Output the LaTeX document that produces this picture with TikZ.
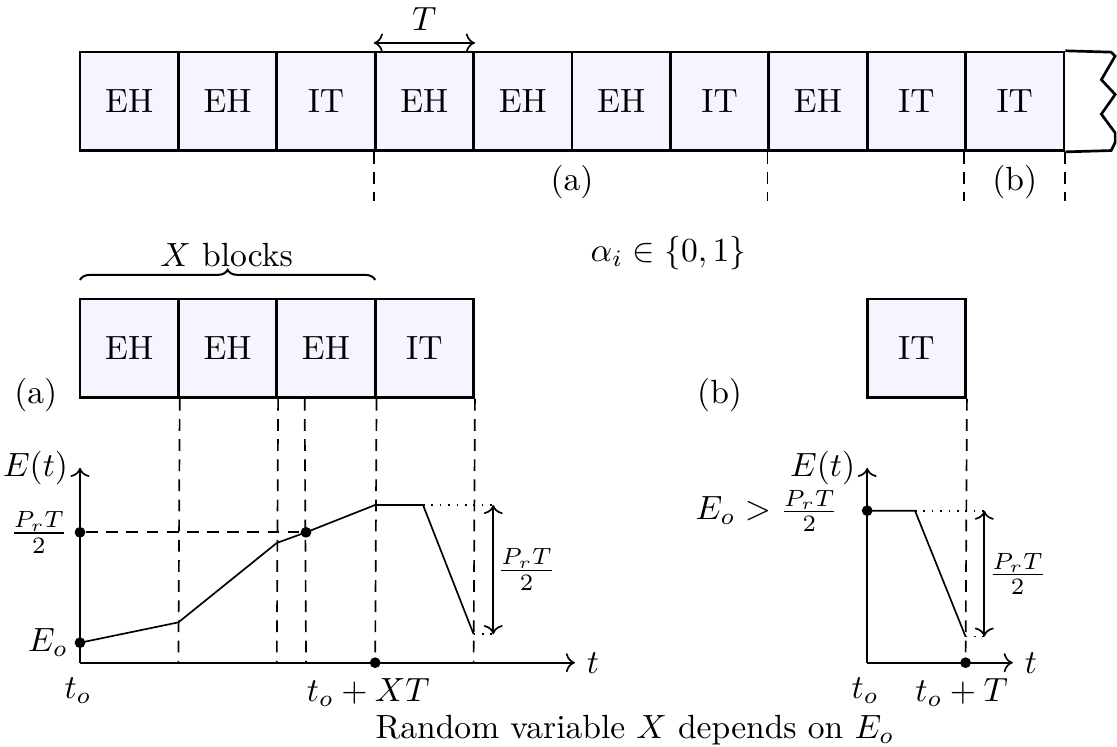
\documentclass[tikz,border=0pt]{standalone}
\usepackage{amsmath}
\usepackage{amssymb}
\usetikzlibrary{arrows.meta, positioning, decorations.pathreplacing, calc}
\definecolor{blockfill}{RGB}{245, 245, 255}

\begin{document}
\begin{tikzpicture}[x=1.03cm, y=1.03cm, line width=0.5pt,
    blk/.style={draw, thick, fill=blockfill, minimum width=1.03cm,
                minimum height=1.03cm, inner sep=0pt},
    guide/.style={dash pattern=on 3.5pt off 2.5pt},
    dot/.style={circle, fill, inner sep=0pt, minimum size=3.2pt}]
    \useasboundingbox (-0.813,0) rectangle (10.539,-7.591);

    % slot sequence
    \node[blk] (t1) at (0.5,-1.03) {EH};
    \node[blk] (t2) at (1.5,-1.03) {EH};
    \node[blk] (t3) at (2.5,-1.03) {IT};
    \node[blk] (t4) at (3.5,-1.03) {EH};
    \node[blk] (t5) at (4.5,-1.03) {EH};
    \node[blk] (t6) at (5.5,-1.03) {EH};
    \node[blk] (t7) at (6.5,-1.03) {IT};
    \node[blk] (t8) at (7.5,-1.03) {EH};
    \node[blk] (t9) at (8.5,-1.03) {IT};
    \node[blk] (t10) at (9.5,-1.03) {IT};
    \draw[thick, fill=white] (t10.north east) -- (10.48,-0.53) -- (10.52,-0.57)
        -- (10.38,-0.81) -- (10.52,-0.96) -- (10.38,-1.16) -- (10.52,-1.35)
        -- (10.52,-1.45) -- (10.48,-1.53) -- (t10.south east);
    \draw[<->] ($(t4.north west)+(0,0.08)$) -- node[above] (tlen) {$T$} ($(t4.north east)+(0,0.08)$);
    \draw[guide] (t4.south west) -- ++(0,-0.5);
    \draw[guide] (t8.south west) -- ++(0,-0.5);
    \draw[guide] (t10.south west) -- ++(0,-0.5);
    \draw[guide] (t10.south east) -- ++(0,-0.5);
    \node (casea) at (5,-1.85) {(a)};
    \node (caseb) at (9.5,-1.85) {(b)};
    \node (alpha) at (5.98,-2.57) {$\alpha_i \in \{0,1\}$};

    % case (a)
    \node (xblk) at (1.49,-2.59) {$X$ blocks};
    \draw[semithick, decorate, decoration={brace, amplitude=3pt}] (0,-2.845) -- (3,-2.845);
    \node[blk] (a1) at (0.5,-3.54) {EH};
    \node[blk] (a2) at (1.5,-3.54) {EH};
    \node[blk] (a3) at (2.5,-3.54) {EH};
    \node[blk] (a4) at (3.5,-3.54) {IT};
    \node (sidea) at (-0.45,-4.02) {(a)};

    \coordinate (oa) at (0,-6.735);
    \draw[->] (oa) -- (0,-4.755) node[left] (eta) {$E(t)$};
    \draw[->] (oa) -- (5.03,-6.735) node[right] (ta) {$t$};
    \node (toa) at (-0.02,-7.02) {$t_o$};
    \node[dot] (eoa) at (0,-6.532) {};
    \node[left] (eola) at (0,-6.532) {$E_o$};
    \node[dot] (hfa) at (0,-5.41) {};
    \node[left] (hfla) at (0,-5.41) {$\frac{P_rT}{2}$};
    \node[dot] (ma) at (2.297,-5.41) {};
    \node[dot] (xta) at (3,-6.735) {};
    \node (xtl) at (2.93,-7.04) {$t_o+XT$};
    \coordinate (q1) at (1,-6.325);
    \coordinate (q2) at (2,-5.518);
    \coordinate (q3) at (3,-5.132);
    \coordinate (q4) at (3.486,-5.132);
    \coordinate (q5) at (4,-6.445);
    \coordinate (ra) at (4.2,-5.132);
    \coordinate (sa) at (4.2,-6.445);
    \draw[guide] (a1.south east) -- (1,-6.735);
    \draw[guide] (a2.south east) -- (2,-6.735);
    \draw[guide] ($(a3.south west)+(0.297,0)$) -- (2.297,-6.735);
    \draw[guide] (a3.south east) -- (xta);
    \draw[guide] (a4.south east) -- (4,-6.735);
    \draw[guide] (hfa) -- (ma);
    \draw (eoa.center) -- (q1) -- (q2) -- (ma.center) -- (q3) -- (q4) -- (q5);
    \draw[dotted] (q4) -- (ra);
    \draw[dotted] (q5) -- (sa);
    \draw[<->] (sa) -- node[right, inner sep=1pt] (fra) {$\frac{P_rT}{2}$} (ra);

    % case (b)
    \node[blk] (b1) at (8.5,-3.54) {IT};
    \node (sideb) at (6.5,-4.02) {(b)};
    \coordinate (ob) at (8,-6.735);
    \draw[->] (ob) -- (8,-4.755) node[left] (etb) {$E(t)$};
    \draw[->] (ob) -- (9.48,-6.735) node[right] (tb) {$t$};
    \node (tob) at (7.98,-7.02) {$t_o$};
    \node[dot] (eob) at (8,-5.19) {};
    \node[left, xshift=-5pt] (eolb) at (8,-5.19) {$E_o > \frac{P_rT}{2}$};
    \node[dot] (xtb) at (9,-6.735) {};
    \node (xtlb) at (8.96,-7.04) {$t_o+T$};
    \coordinate (w1) at (8.486,-5.19);
    \coordinate (w2) at (9,-6.47);
    \coordinate (rb) at (9.19,-5.19);
    \coordinate (sb) at (9.19,-6.47);
    \draw[guide] (b1.south east) -- (xtb);
    \draw (eob.center) -- (w1) -- (w2);
    \draw[dotted] (w1) -- (rb);
    \draw[dotted] (w2) -- (sb);
    \draw[<->] (sb) -- node[right, inner sep=1pt] (frb) {$\frac{P_rT}{2}$} (rb);

    \node (note) at (5.64,-7.42) {Random variable $X$ depends on $E_o$};
\end{tikzpicture}
\end{document}
